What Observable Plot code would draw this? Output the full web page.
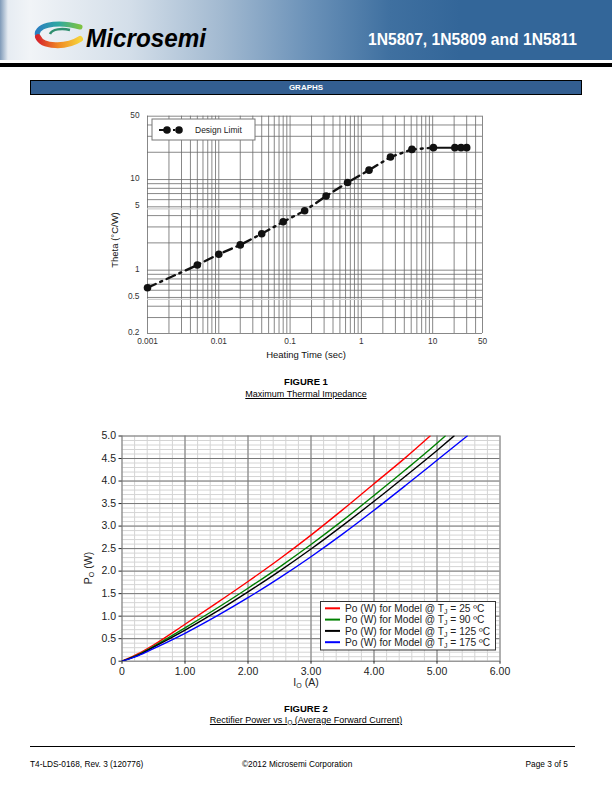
<!DOCTYPE html>
<html><head><meta charset="utf-8">
<script src="https://cdn.jsdelivr.net/npm/d3@7"></script>
<script src="https://cdn.jsdelivr.net/npm/@observablehq/plot@0.6"></script>
<style>
html,body{margin:0;padding:0;background:#fff;}
body{width:612px;height:792px;position:relative;overflow:hidden;font-family:"Liberation Sans",Arial,Helvetica,sans-serif;color:#000;}
.abs{position:absolute;}
#header{left:0;top:0;width:612px;height:60px;background:linear-gradient(to right,#7f9ab8 0px,#e6ecf2 8px,#f1f4f7 30px,#d3dee9 130px,#a3bad1 220px,#6a91b8 310px,#3f70a0 390px,#336699 460px,#336699 612px);}
#hbar{left:0;top:62.5px;width:612px;height:4px;background:#000;}
#graphs{left:30px;top:79.5px;width:550px;height:13px;background:#335e91;border:1px solid #000;color:#fff;font-weight:bold;font-size:8px;text-align:center;line-height:13px;}
.cap{width:612px;left:0;text-align:center;font-size:9px;}
.capb{font-weight:bold;font-size:9.5px;}
.foot{font-size:8.3px;top:759px;}
sub{font-size:70%;vertical-align:-2px;line-height:0;}
</style></head>
<body>
<div id="header" class="abs"></div>
<svg class="abs" style="left:0;top:0" width="612" height="60">
  <defs>
    <linearGradient id="gt" x1="0" x2="1"><stop offset="0" stop-color="#2a7fc0"/><stop offset="0.5" stop-color="#2fa9a0"/><stop offset="1" stop-color="#7cc242"/></linearGradient>
    <linearGradient id="gb" x1="0" x2="1"><stop offset="0" stop-color="#d7262b"/><stop offset="0.5" stop-color="#f08a24"/><stop offset="1" stop-color="#f6d23a"/></linearGradient>
  </defs>
  <path d="M38,37 C33,26 55,20 80,27" stroke="url(#gt)" stroke-width="5" fill="none" stroke-linecap="round"/>
  <path d="M38,37 C42,47 66,48 80,39" stroke="url(#gb)" stroke-width="6" fill="none" stroke-linecap="round"/>
  <path d="M50,34 C52,29 62,28 70,30" stroke="#2f8f6f" stroke-width="2.5" fill="none"/>
  <text x="86" y="47" font-family="Liberation Sans, Arial" font-weight="bold" font-style="italic" font-size="25" textLength="120" lengthAdjust="spacingAndGlyphs" fill="#000">Microsemi</text>
  <text x="368" y="45" font-family="Liberation Sans, Arial" font-weight="bold" font-size="17" textLength="209" lengthAdjust="spacingAndGlyphs" fill="#fff">1N5807, 1N5809 and 1N5811</text>
</svg>
<div id="hbar" class="abs"></div>
<div id="graphs" class="abs">GRAPHS</div>

<div id="fig1" class="abs" style="left:0;top:100px"></div>
<div class="abs cap capb" style="top:376px">FIGURE 1</div>
<div class="abs cap" style="top:389px"><u>Maximum Thermal Impedance</u></div>

<div id="fig2" class="abs" style="left:0;top:425px"></div>
<div class="abs cap capb" style="top:703px">FIGURE 2</div>
<div class="abs cap" style="top:715px"><u>Rectifier Power vs I<sub>O</sub> (Average Forward Current)</u></div>

<div class="abs" style="left:30px;top:746px;width:545px;height:1px;background:#000"></div>
<div class="abs foot" style="left:30px">T4-LDS-0168, Rev. 3 (120776)</div>
<div class="abs foot" style="left:242px">©2012 Microsemi Corporation</div>
<div class="abs foot" style="left:525px;width:43px;text-align:right">Page 3 of 5</div>

<script>
// ---------- Figure 1 data ----------
const heatTime = [0.001,0.005,0.01,0.02,0.04,0.08,0.16,0.32,0.64,1.28,2.56,5.12,10.24,20.48,25,30];
const thetaCW  = [0.64,1.14,1.50,1.90,2.52,3.42,4.52,6.57,9.29,12.7,17.7,21.5,22.5,22.5,22.5,22.5];
const fig1XTicks = [0.001,0.01,0.1,1,10,50];
const fig1YTicks = [0.2,0.5,1,5,10,50];

// ---------- Figure 2 data ----------
const curr25  = [0,0.25,0.5,1.0,1.5,2.0,2.5,3.0,3.5,4.0,4.5,4.89];
const pow25   = [0,0.16,0.36,0.82,1.29,1.77,2.27,2.80,3.36,3.94,4.52,5.0];
const curr90  = [0,0.25,0.5,1.0,1.5,2.0,2.5,3.0,3.5,4.0,4.5,5.0,5.13];
const pow90   = [0,0.14,0.33,0.74,1.17,1.62,2.09,2.59,3.12,3.68,4.25,4.84,5.0];
const curr125 = [0,0.25,0.5,1.0,1.5,2.0,2.5,3.0,3.5,4.0,4.5,5.0,5.27];
const pow125  = [0,0.13,0.31,0.69,1.10,1.54,2.00,2.49,3.01,3.55,4.11,4.68,5.0];
const curr175 = [0,0.25,0.5,1.0,1.5,2.0,2.5,3.0,3.5,4.0,4.5,5.0,5.48];
const pow175  = [0,0.12,0.28,0.62,1.00,1.41,1.85,2.32,2.82,3.35,3.90,4.46,5.0];
const seriesNames = ["25","90","125","175"];
const seriesColors = ["#ff0000","#008000","#000000","#0000ff"];
const fig2XTicks = [0,1,2,3,4,5,6];
const fig2YTicks = [0,0.5,1,1.5,2,2.5,3,3.5,4,4.5,5];

const FONT = "Liberation Sans, Arial, Helvetica, sans-serif";

// ---------- Figure 1 ----------
(function(){
  const xGrid = [], yGrid = [];
  for (const d of [0.001,0.01,0.1,1]) for (let k=1;k<=9;k++) xGrid.push(+(k*d).toPrecision(3));
  xGrid.push(10,20,30,40,50);
  for (const d of [0.1,1]) for (let k=1;k<=9;k++) { const v=+(k*d).toPrecision(3); if (v>=0.2) yGrid.push(v); }
  yGrid.push(10,20,30,40,50);
  const pts = heatTime.map((t,i)=>({t, th: thetaCW[i]}));
  const dashed = pts.filter(p=>p.t<=10.24);
  const solid = pts.filter(p=>p.t>=10.24);
  const chart = Plot.plot({
    width: 612, height: 270,
    marginLeft: 147, marginRight: 130, marginTop: 15.7, marginBottom: 37,
    style: {fontFamily: FONT, fontSize: "8px", color: "#333", background: "transparent", overflow: "visible"},
    x: {type: "log", domain: [0.001, 50], axis: null},
    y: {type: "log", domain: [0.2, 50], axis: null},
    marks: [
      Plot.ruleX(xGrid, {stroke: "#6a6a6a", strokeWidth: 0.8}),
      Plot.ruleY(yGrid, {stroke: "#6a6a6a", strokeWidth: 0.8}),
      Plot.ruleY([0.5, 5], {stroke: "#cfcfcf", strokeWidth: 1.2, dy: 2}),
      Plot.text(fig1XTicks, {x: d => d, text: d => String(d), frameAnchor: "bottom", dy: 10, fontSize: 8.3, fill: "#333"}),
      Plot.text(fig1YTicks, {y: d => d, text: d => String(d), frameAnchor: "left", textAnchor: "end", dx: -8, dy: -1, fontSize: 8.3, fill: "#333"}),
      Plot.line(dashed, {x: "t", y: "th", stroke: "#111", strokeWidth: 2.4, strokeDasharray: "9,5,2,5"}),
      Plot.line(solid, {x: "t", y: "th", stroke: "#111", strokeWidth: 2}),
      Plot.dot(pts, {x: "t", y: "th", r: 3.8, fill: "#111", stroke: "none"})
    ]
  });
  document.getElementById("fig1").appendChild(chart);
  const svg = d3.select(chart);
  svg.append("text").attr("x", 306).attr("y", 258).attr("text-anchor","middle")
     .attr("font-size", 9.5).attr("fill","#111").attr("font-family", FONT).text("Heating Time (sec)");
  svg.append("text").attr("transform","translate(118,140) rotate(-90)").attr("text-anchor","middle")
     .attr("font-size", 9.5).attr("fill","#111").attr("font-family", FONT).text("Theta (°C/W)");
  // legend
  const lg = svg.append("g");
  lg.append("rect").attr("x",152).attr("y",19).attr("width",103).attr("height",21).attr("fill","#fff").attr("stroke","#777");
  lg.append("line").attr("x1",159).attr("x2",182).attr("y1",30).attr("y2",30).attr("stroke","#111").attr("stroke-width",2.2).attr("stroke-dasharray","9,5,2,5");
  lg.append("circle").attr("cx",167).attr("cy",30).attr("r",3.8).attr("fill","#111");
  lg.append("circle").attr("cx",179).attr("cy",30).attr("r",3.8).attr("fill","#111");
  lg.append("text").attr("x",195).attr("y",33).attr("text-anchor","start").attr("font-size",8.5).attr("fill","#222").attr("font-family",FONT).text("Design Limit");
})();

// ---------- Figure 2 ----------
(function(){
  const currs = [curr25, curr90, curr125, curr175];
  const pows = [pow25, pow90, pow125, pow175];
  const rows = [];
  seriesNames.forEach((s, j) => currs[j].forEach((c, i) => rows.push({I: c, P: pows[j][i], s})));
  const xMinor = d3.range(0, 6.001, 0.2).map(v=>+v.toFixed(1));
  const yMinor = d3.range(0, 5.001, 0.1).map(v=>+v.toFixed(1));
  const chart = Plot.plot({
    width: 612, height: 265,
    marginLeft: 121.5, marginRight: 112.5, marginTop: 10.5, marginBottom: 29.3,
    style: {fontFamily: FONT, fontSize: "10px", color: "#222", background: "transparent", overflow: "visible"},
    x: {domain: [0, 6]},
    y: {domain: [0, 5]},
    color: {domain: seriesNames, range: seriesColors},
    marks: [
      Plot.ruleX(xMinor, {stroke: "#d4d4d4", strokeWidth: 1}),
      Plot.ruleY(yMinor, {stroke: "#d4d4d4", strokeWidth: 1}),
      Plot.ruleX(fig2XTicks, {stroke: "#777", strokeWidth: 1}),
      Plot.ruleY(fig2YTicks, {stroke: "#777", strokeWidth: 1}),
      Plot.axisX(fig2XTicks, {tickSize: 3, tickPadding: 3, label: null, tickFormat: d => d === 0 ? "0" : d.toFixed(2), fontSize: 10.5}),
      Plot.axisY(fig2YTicks, {tickSize: 3, tickPadding: 3, label: null, tickFormat: d => d === 0 ? "0" : d.toFixed(1), fontSize: 10.5}),
      Plot.line(rows, {x: "I", y: "P", z: "s", stroke: "s", strokeWidth: 1.4, curve: "monotone-x", clip: true})
    ]
  });
  document.getElementById("fig2").appendChild(chart);
  const svg = d3.select(chart);
  // axis titles with subscripts
  const yt = svg.append("text").attr("transform","translate(92,143) rotate(-90)").attr("text-anchor","middle")
     .attr("font-size", 10.5).attr("fill","#222").attr("font-family", FONT);
  yt.append("tspan").text("P");
  yt.append("tspan").attr("font-size",7).attr("dy",2).text("O");
  yt.append("tspan").attr("dy",-2).text(" (W)");
  const xt = svg.append("text").attr("x", 306).attr("y", 261).attr("text-anchor","middle")
     .attr("font-size", 10.5).attr("fill","#222").attr("font-family", FONT);
  xt.append("tspan").text("I");
  xt.append("tspan").attr("font-size",7).attr("dy",2).text("O");
  xt.append("tspan").attr("dy",-2).text(" (A)");
  // legend
  const lg = svg.append("g");
  lg.append("rect").attr("x",320.5).attr("y",176.5).attr("width",175).attr("height",48.5).attr("fill","#fff").attr("stroke","#333");
  seriesNames.forEach((t, i) => {
    const cy = 183.3 + i*11.3;
    lg.append("line").attr("x1",325).attr("x2",340).attr("y1",cy).attr("y2",cy).attr("stroke",seriesColors[i]).attr("stroke-width",2);
    const tx = lg.append("text").attr("x",345).attr("y",cy+3.6).attr("text-anchor","start").attr("font-size",10.2).attr("fill","#222").attr("font-family",FONT);
    tx.append("tspan").text("Po (W) for Model @ T");
    tx.append("tspan").attr("font-size",7).attr("dy",2).text("J");
    tx.append("tspan").attr("dy",-2).text(" = " + t + " ºC");
  });
})();
</script>
</body></html>
